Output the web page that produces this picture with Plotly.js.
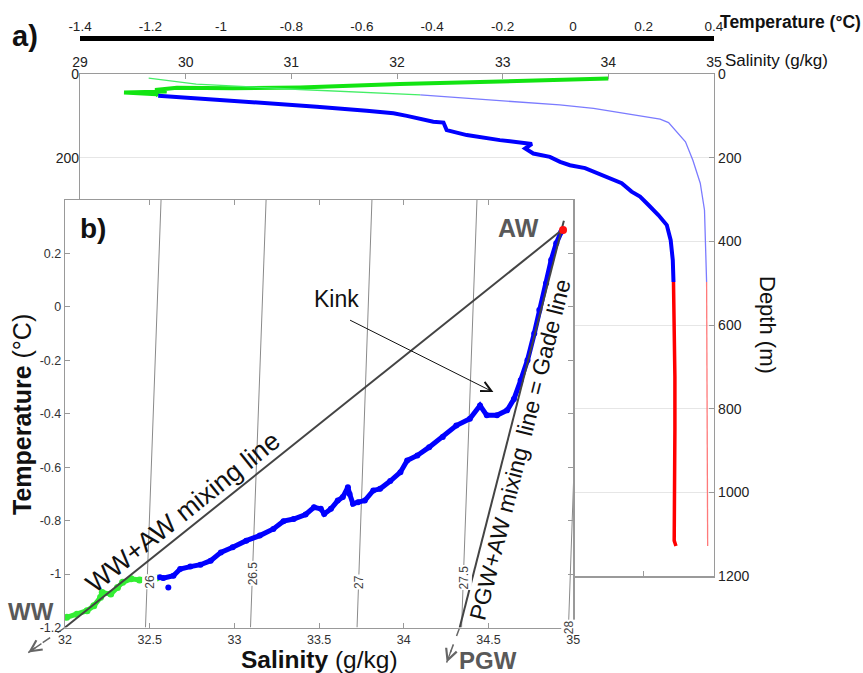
<!DOCTYPE html>
<html><head><meta charset="utf-8">
<script src="https://cdn.plot.ly/plotly-3.0.1.min.js"></script>
<style>html,body{margin:0;padding:0;background:#fff}#chart{width:863px;height:673px}</style>
</head><body><div id="chart"></div>
<script>
// ================= DATA =================
// Panel a) temperature profile (thick line)
const tempGreenDepth = [11, 17, 24, 32, 34, 33, 38, 42, 44, 48.5, 52];
const tempGreenT     = [0.100, -0.208, -0.492, -0.775, -0.966, -1.125, -1.187, -1.154, -1.275, -1.182, -1.178];
const tempBlueDepth  = [52, 61, 69, 78, 88, 94, 100, 114, 116, 134, 146, 158, 167, 178, 190, 198, 210, 218, 225, 237, 249, 261, 281, 293, 313, 337, 361, 397, 445, 497];
const tempBlueT      = [-1.178, -1.012, -0.870, -0.728, -0.586, -0.510, -0.472, -0.397, -0.368, -0.359, -0.302, -0.208, -0.117, -0.136, -0.113, -0.066, -0.037, -0.009, 0.034, 0.067, 0.105, 0.138, 0.166, 0.190, 0.214, 0.242, 0.266, 0.277, 0.283, 0.285];
const tempRedDepth   = [497, 601, 724, 848, 972, 1095, 1115, 1128];
const tempRedT       = [0.285, 0.287, 0.289, 0.289, 0.287, 0.285, 0.287, 0.292];
// Panel a) salinity profile (thin line)
const salGreenDepth = [10, 24, 37, 50];
const salGreenS     = [29.65, 30.10, 31.08, 32.22];
const salBlueDepth  = [50, 64, 74, 82, 94, 108, 116, 138, 162, 206, 261, 325, 397, 497];
const salBlueS      = [32.22, 32.97, 33.54, 33.86, 34.17, 34.49, 34.57, 34.65, 34.73, 34.80, 34.87, 34.91, 34.92, 34.93];
const salRedDepth   = [497, 800, 1128];
const salRedS       = [34.93, 34.935, 34.94];
// Panel a) tick labels
const tempTickVals = [-1.4, -1.2, -1, -0.8, -0.6, -0.4, -0.2, 0, 0.2, 0.4];
const tempTickText = ['-1.4', '-1.2', '-1', '-0.8', '-0.6', '-0.4', '-0.2', '0', '0.2', '0.4'];
const salTickVals  = [29, 30, 31, 32, 33, 34, 35];
const depthTickVals = [0, 200, 400, 600, 800, 1000, 1200];
const depthLeftTickVals = [0, 200];

// Panel b) T-S diagram
const tsGreenS = [32.01, 32.07, 32.13, 32.17, 32.21, 32.22, 32.27, 32.31, 32.34, 32.39, 32.44, 32.49, 32.54];
const tsGreenT = [-1.162, -1.150, -1.137, -1.119, -1.087, -1.069, -1.075, -1.050, -1.031, -1.018, -1.022, -1.015, -1.015];
const tsBlueS = [32.56, 32.58, 32.64, 32.68, 32.74, 32.80, 32.86, 32.92, 32.99, 33.07, 33.15, 33.23, 33.29, 33.35, 33.42, 33.47, 33.51, 33.53, 33.57, 33.61, 33.64, 33.67, 33.68, 33.70, 33.73, 33.77, 33.82, 33.86, 33.92, 33.98, 34.02, 34.08, 34.15, 34.23, 34.31, 34.39, 34.45, 34.49, 34.55, 34.61, 34.65, 34.69, 34.73, 34.77, 34.80, 34.84, 34.87, 34.90, 34.93];
const tsBlueT = [-1.012, -1.015, -1.006, -0.981, -0.972, -0.965, -0.950, -0.919, -0.900, -0.875, -0.856, -0.831, -0.802, -0.794, -0.777, -0.750, -0.756, -0.775, -0.756, -0.725, -0.712, -0.675, -0.700, -0.737, -0.731, -0.725, -0.687, -0.681, -0.652, -0.619, -0.575, -0.556, -0.525, -0.487, -0.444, -0.419, -0.369, -0.406, -0.406, -0.387, -0.345, -0.275, -0.200, -0.100, -0.012, 0.088, 0.175, 0.238, 0.281];
const tsOutlierS = [32.61];
const tsOutlierT = [-1.050];
const awS = [34.94];
const awT = [0.288];
// mixing lines (end members)
const wwAwLineS = [32.00, 34.92];
const wwAwLineT = [-1.20, 0.281];
const pgwAwLineS = [34.33, 34.945];
const pgwAwLineT = [-1.20, 0.322];
// dashed extensions toward WW and PGW
const wwArrowS = [32.00, 31.783];
const wwArrowT = [-1.20, -1.294];
const pgwArrowS = [34.33, 34.253];
const pgwArrowT = [-1.20, -1.331];
// isopycnals (sigma) : salinity at T=-1.2 and at T=0.4
const isoLabels   = ['26', '26.5', '27', '27.5', '28'];
const isoSBottom  = [32.475, 33.095, 33.724, 34.341, 34.972];
const isoSTop     = [32.567, 33.187, 33.812, 34.432, 35.060];
const isoLabelS   = [32.497, 33.107, 33.735, 34.355, 34.972];
const isoLabelT   = [-1.028, -0.999, -1.030, -1.013, -1.197];
const tsSTickVals = [32, 32.5, 33, 33.5, 34, 34.5, 35];
const tsTTickVals = [-1.2, -1, -0.8, -0.6, -0.4, -0.2, 0, 0.2];
const tsTTickText = ['-1.2', '-1', '-0.8', '-0.6', '-0.4', '-0.2', '0', '0.2'];
// Kink arrow (tail -> head) in T-S coordinates
const kinkTail = [33.674, -0.047];
const kinkHead = [34.529, -0.319];

// ================= LAYOUT HELPERS =================
const W = 863, H = 673;
const fx = p => p / W;
const fy = p => 1 - p / H;
const FONT = 'Liberation Sans, Arial, Helvetica, sans-serif';

const domA_x = [fx(80), fx(714)], domA_y = [fy(576.2), fy(74)];
const domB_x = [fx(65), fx(573.2)], domB_y = [fy(627.5), fy(200)];
const rangeBS = [32, 35], rangeBT = [-1.2, 0.4];
function extend(r, d) { const k = (r[1] - r[0]) / (d[1] - d[0]); return [r[0] - d[0] * k, r[1] + (1 - d[1]) * k]; }

// isopycnal polyline with gaps
const isoX = [], isoY = [];
isoLabels.forEach((_, i) => { isoX.push(isoSBottom[i], isoSTop[i], null); isoY.push(rangeBT[0], rangeBT[1], null); });

const traces = [
  // full-figure coordinate system (same scale as panel b) for dashed extensions outside the frame
  {x: wwArrowS, y: wwArrowT, xaxis: 'x', yaxis: 'y', mode: 'lines', line: {color: '#666', width: 1.5, dash: 'dash'}, hoverinfo: 'skip'},
  {x: pgwArrowS, y: pgwArrowT, xaxis: 'x', yaxis: 'y', mode: 'lines', line: {color: '#666', width: 1.5, dash: 'dash'}, hoverinfo: 'skip'},
  // panel a: temperature profile
  {x: tempGreenT, y: tempGreenDepth, xaxis: 'x2', yaxis: 'y2', mode: 'lines', line: {color: '#12e412', width: 4}},
  {x: tempBlueT, y: tempBlueDepth, xaxis: 'x2', yaxis: 'y2', mode: 'lines', line: {color: '#0000ff', width: 4}},
  {x: tempRedT, y: tempRedDepth, xaxis: 'x2', yaxis: 'y2', mode: 'lines', line: {color: '#ff0000', width: 3.5}},
  // panel a: salinity profile
  {x: salGreenS, y: salGreenDepth, xaxis: 'x4', yaxis: 'y2', mode: 'lines', line: {color: '#44ee66', width: 1.3}},
  {x: salBlueS, y: salBlueDepth, xaxis: 'x4', yaxis: 'y2', mode: 'lines', line: {color: '#7b7bff', width: 1.3}},
  {x: salRedS, y: salRedDepth, xaxis: 'x4', yaxis: 'y2', mode: 'lines', line: {color: '#ff7a7a', width: 1.3}},
  // empty traces to register overlay axes
  {x: [], y: [], xaxis: 'x3', yaxis: 'y2', mode: 'lines'},
  {x: [], y: [], xaxis: 'x2', yaxis: 'y3', mode: 'lines'},
  // panel b
  {x: isoX, y: isoY, xaxis: 'x5', yaxis: 'y4', mode: 'lines', line: {color: '#8a8a8a', width: 1}},
  {x: tsGreenS, y: tsGreenT, xaxis: 'x5', yaxis: 'y4', mode: 'lines+markers', line: {color: '#33ee33', width: 5}, marker: {color: '#33ee33', size: 7}},
  {x: tsBlueS, y: tsBlueT, xaxis: 'x5', yaxis: 'y4', mode: 'lines+markers', line: {color: '#0000ff', width: 5}, marker: {color: '#0000ff', size: 6}},
  {x: tsOutlierS, y: tsOutlierT, xaxis: 'x5', yaxis: 'y4', mode: 'markers', marker: {color: '#0000ff', size: 6}},
  {x: wwAwLineS, y: wwAwLineT, xaxis: 'x5', yaxis: 'y4', mode: 'lines', line: {color: '#444', width: 2}},
  {x: pgwAwLineS, y: pgwAwLineT, xaxis: 'x5', yaxis: 'y4', mode: 'lines', line: {color: '#444', width: 2}},
  {x: awS, y: awT, xaxis: 'x5', yaxis: 'y4', mode: 'markers', marker: {color: '#ff1010', size: 8}, cliponaxis: false}
];

const tickFontA = {family: FONT, size: 14, color: '#222'};
const tickFontB = {family: FONT, size: 12.5, color: '#333'};
const grayA = '#9a9a9a', grayB = '#999';

const annotations = [
  {text: '<b>a)</b>', x: fx(25), y: fy(36), font: {family: FONT, size: 29, color: '#111'}},
  {text: '<b>b)</b>', x: fx(93), y: fy(228), font: {family: FONT, size: 28, color: '#111'}},
  {text: '<b>Temperature (°C)</b>', x: fx(718), y: fy(22), xanchor: 'left', font: {family: FONT, size: 17.5, color: '#111'}},
  {text: 'Salinity (g/kg)', x: fx(723), y: fy(60), xanchor: 'left', font: {family: FONT, size: 17, color: '#111'}},
  {text: 'Depth (m)', x: fx(768), y: fy(325), textangle: 90, font: {family: FONT, size: 22, color: '#111'}},
  {text: '<b>Temperature</b> (°C)', x: fx(22), y: fy(415), textangle: -90, font: {family: FONT, size: 25, color: '#111'}},
  {text: '<b>Salinity</b> (g/kg)', x: fx(319), y: fy(659), font: {family: FONT, size: 24.5, color: '#111'}},
  {text: '<b>AW</b>', x: fx(518), y: fy(227.5), font: {family: FONT, size: 25, color: '#595959'}},
  {text: '<b>WW</b>', x: fx(30.5), y: fy(611.5), font: {family: FONT, size: 24, color: '#595959'}},
  {text: '<b>PGW</b>', x: fx(487.5), y: fy(660), font: {family: FONT, size: 24, color: '#595959'}},
  {text: 'Kink', x: fx(336), y: fy(299.4), font: {family: FONT, size: 23, color: '#111'}},
  {text: 'WW+AW mixing line', x: fx(183), y: fy(512), textangle: -38.7, font: {family: FONT, size: 26.5, color: '#111'}},
  {text: 'PGW+AW mixing\u00a0\u00a0line = Gade line', x: fx(520), y: fy(450), textangle: -75.8, font: {family: FONT, size: 23, color: '#111'}},
  // Kink arrow
  {xref: 'x5', yref: 'y4', axref: 'x5', ayref: 'y4', x: kinkHead[0], y: kinkHead[1], ax: kinkTail[0], ay: kinkTail[1],
   text: '', showarrow: true, arrowhead: 5, arrowsize: 2, arrowwidth: 1, arrowcolor: '#111'},
  // arrowheads of dashed extensions
  {xref: 'x', yref: 'y', axref: 'x', ayref: 'y', x: wwArrowS[1], y: wwArrowT[1],
   ax: wwArrowS[0] + (wwArrowS[1] - wwArrowS[0]) * 0.6, ay: wwArrowT[0] + (wwArrowT[1] - wwArrowT[0]) * 0.6,
   text: '', showarrow: true, arrowhead: 5, arrowsize: 1.7, arrowwidth: 1.3, arrowcolor: '#666'},
  {xref: 'x', yref: 'y', axref: 'x', ayref: 'y', x: pgwArrowS[1], y: pgwArrowT[1],
   ax: pgwArrowS[0] + (pgwArrowS[1] - pgwArrowS[0]) * 0.6, ay: pgwArrowT[0] + (pgwArrowT[1] - pgwArrowT[0]) * 0.6,
   text: '', showarrow: true, arrowhead: 5, arrowsize: 1.7, arrowwidth: 1.3, arrowcolor: '#666'}
].map(a => Object.assign({xref: 'paper', yref: 'paper', showarrow: false, xanchor: 'center', yanchor: 'middle'}, a));

isoLabels.forEach((lab, i) => annotations.push({
  xref: 'x5', yref: 'y4', x: isoLabelS[i], y: isoLabelT[i], text: lab, textangle: -90, showarrow: false,
  xanchor: 'center', yanchor: 'middle',
  bgcolor: '#fff', borderpad: 0, font: {family: FONT, size: 12, color: '#444'}
}));

const layout = {
  width: W, height: H,
  margin: {l: 0, r: 0, t: 0, b: 0},
  paper_bgcolor: '#fff', plot_bgcolor: '#fff',
  showlegend: false,
  font: {family: FONT},
  // full-figure axes with panel-b scale
  xaxis: {domain: [0, 1], range: extend(rangeBS, domB_x), visible: false, anchor: 'y', fixedrange: true},
  yaxis: {domain: [0, 1], range: extend(rangeBT, domB_y), visible: false, anchor: 'x', fixedrange: true},
  // panel a: temperature (bottom frame ticks)
  xaxis2: {domain: domA_x, range: [-1.4, 0.4], anchor: 'y2', side: 'bottom', showticklabels: false,
           tickmode: 'array', tickvals: tempTickVals, ticks: 'inside', ticklen: 5, tickcolor: grayA,
           showline: true, linecolor: grayA, linewidth: 1.3, showgrid: false, zeroline: false},
  // panel a: temperature top bar
  xaxis3: {overlaying: 'x2', anchor: 'free', position: fy(38.3), side: 'top', range: [-1.4, 0.4],
           tickmode: 'array', tickvals: tempTickVals, ticktext: tempTickText, ticks: '',
           showline: true, linecolor: '#000', linewidth: 5, showgrid: false, zeroline: false,
           tickfont: {family: FONT, size: 13.5, color: '#222'}},
  // panel a: salinity top
  xaxis4: {overlaying: 'x2', anchor: 'y2', side: 'top', range: [29, 35],
           tickmode: 'array', tickvals: salTickVals, ticks: 'inside', ticklen: 5, tickcolor: grayA,
           showline: true, linecolor: grayA, linewidth: 1.3, showgrid: false, zeroline: false,
           tickfont: tickFontA},
  yaxis2: {domain: domA_y, range: [1200, 0], anchor: 'x2', side: 'right',
           tickmode: 'array', tickvals: depthTickVals, ticks: 'inside', ticklen: 5, tickcolor: grayA,
           showline: true, mirror: true, linecolor: grayA, linewidth: 1.3,
           showgrid: true, gridcolor: '#e6e6e6', gridwidth: 1, zeroline: false, tickfont: tickFontA},
  yaxis3: {overlaying: 'y2', anchor: 'x2', side: 'left', range: [1200, 0],
           tickmode: 'array', tickvals: depthLeftTickVals, ticks: '', showline: false, showgrid: false,
           zeroline: false, tickfont: tickFontA},
  // panel b
  xaxis5: {domain: domB_x, range: rangeBS, anchor: 'y4', tickmode: 'array', tickvals: tsSTickVals,
           ticks: 'inside', ticklen: 5, tickcolor: grayB, mirror: 'allticks', showline: true,
           linecolor: grayB, linewidth: 1.3, showgrid: false, zeroline: false, tickfont: tickFontB},
  yaxis4: {domain: domB_y, range: rangeBT, anchor: 'x5', tickmode: 'array', tickvals: tsTTickVals, ticktext: tsTTickText,
           ticks: 'inside', ticklen: 5, tickcolor: grayB, mirror: 'allticks', showline: true,
           linecolor: grayB, linewidth: 1.3, showgrid: false, zeroline: false, tickfont: tickFontB},
  annotations: annotations
};

Plotly.newPlot('chart', traces, layout, {displayModeBar: false, staticPlot: true});
</script>
</body></html>
